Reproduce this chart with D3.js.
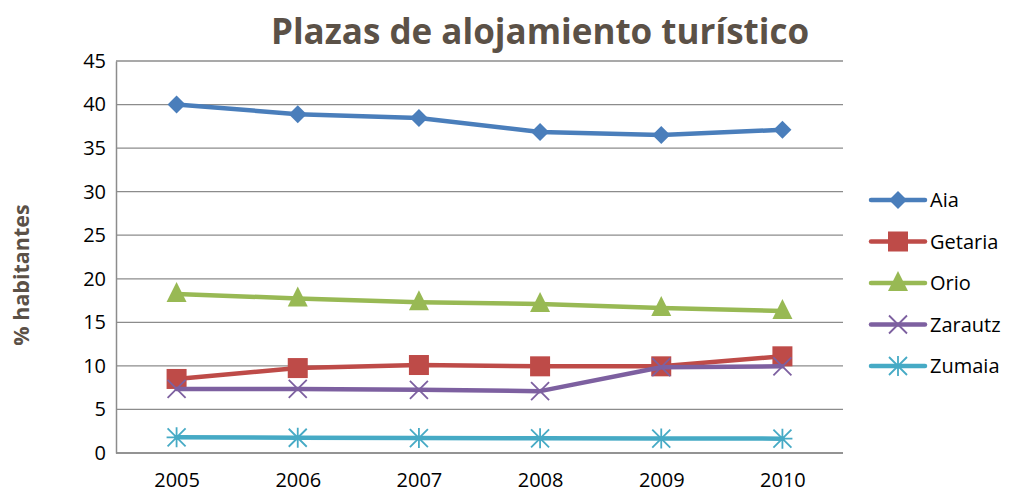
<!DOCTYPE html>
<html>
<head>
<meta charset="utf-8">
<script src="https://cdn.jsdelivr.net/npm/d3@7"></script>
<style>
  body { margin: 0; background: #fff; }
  text { font-family: "Open Sans", "Liberation Sans", sans-serif; }
</style>
</head>
<body>
<div id="canvas"></div>
<script>
"use strict";

/* ===============================
   Data */
let years = ["2005", "2006", "2007", "2008", "2009", "2010"];
let seriesNames = ["Aia", "Getaria", "Orio", "Zarautz", "Zumaia"];
let aia = [40.0, 38.9, 38.45, 36.85, 36.5, 37.1];
let getaria = [8.5, 9.75, 10.1, 9.95, 9.95, 11.1];
let orio = [18.25, 17.75, 17.3, 17.1, 16.65, 16.3];
let zarautz = [7.35, 7.35, 7.25, 7.1, 9.85, 9.95];
let zumaia = [1.8, 1.75, 1.72, 1.68, 1.66, 1.65];
let yTicks = [0, 5, 10, 15, 20, 25, 30, 35, 40, 45];

/* Configuration */
let svgWidth = 1013;
let svgHeight = 495;
let plotLeft = 116;
let plotRight = 843;
let plotTop = 61;
let plotBottom = 453;

let colors = ["#4a7ebb", "#be4b48", "#98b954", "#7d60a0", "#46aac5"];
let markers = ["diamond", "square", "triangle", "x", "star"];
let allValues = [aia, getaria, orio, zarautz, zumaia];

let svg = d3.select("#canvas")
  .append("svg")
  .attr("width", svgWidth)
  .attr("height", svgHeight);

let xScale = d3.scalePoint()
  .domain(years)
  .range([plotLeft, plotRight])
  .padding(0.5);

let yScale = d3.scaleLinear()
  .domain([0, 45])
  .range([plotBottom, plotTop]);

/* Gridlines */
svg.selectAll("line.grid")
  .data(yTicks)
  .join("line")
  .attr("class", "grid")
  .attr("x1", plotLeft)
  .attr("x2", plotRight)
  .attr("y1", function (d) { return yScale(d); })
  .attr("y2", function (d) { return yScale(d); })
  .attr("stroke", "#8c8c8c")
  .attr("stroke-width", 1.3);

/* Y axis */
let yAxis = d3.axisLeft(yScale).tickValues(yTicks).tickSize(0).tickPadding(10);
let yG = svg.append("g")
  .attr("transform", "translate(" + plotLeft + ",0)")
  .call(yAxis);
yG.select(".domain").attr("stroke", "#8c8c8c").attr("stroke-width", 1.5);
yG.selectAll("text")
  .attr("font-size", 20)
  .attr("fill", "#000")
  .style("font-family", "'Open Sans', sans-serif");

/* X axis */
let xAxis = d3.axisBottom(xScale).tickSize(0).tickPadding(20);
let xG = svg.append("g")
  .attr("transform", "translate(0," + plotBottom + ")")
  .call(xAxis);
xG.select(".domain").attr("stroke", "#8c8c8c").attr("stroke-width", 1.5)
  .attr("d", "M" + plotLeft + ",0H" + plotRight);
xG.selectAll("text")
  .attr("font-size", 20)
  .attr("fill", "#000")
  .style("font-family", "'Open Sans', sans-serif");

/* Marker drawing helper */
function drawMarker(g, type, color, x, y) {
  if (type === "diamond") {
    g.append("path")
      .attr("d", "M" + x + "," + (y - 9) + "L" + (x + 9) + "," + y + "L" + x + "," + (y + 9) + "L" + (x - 9) + "," + y + "Z")
      .attr("fill", color);
  } else if (type === "square") {
    g.append("rect")
      .attr("x", x - 10).attr("y", y - 10)
      .attr("width", 20).attr("height", 20)
      .attr("fill", color);
  } else if (type === "triangle") {
    g.append("path")
      .attr("d", "M" + x + "," + (y - 12) + "L" + (x + 10) + "," + (y + 8) + "L" + (x - 10) + "," + (y + 8) + "Z")
      .attr("fill", color);
  } else if (type === "x") {
    g.append("path")
      .attr("d", "M" + (x - 9) + "," + (y - 9) + "L" + (x + 9) + "," + (y + 9) + "M" + (x + 9) + "," + (y - 9) + "L" + (x - 9) + "," + (y + 9))
      .attr("stroke", color).attr("stroke-width", 1.8).attr("fill", "none");
  } else if (type === "star") {
    g.append("path")
      .attr("d", "M" + (x - 9) + "," + (y - 9) + "L" + (x + 9) + "," + (y + 9) + "M" + (x + 9) + "," + (y - 9) + "L" + (x - 9) + "," + (y + 9) + "M" + x + "," + (y - 10) + "L" + x + "," + (y + 10) + "M" + (x - 10) + "," + y + "L" + (x + 10) + "," + y)
      .attr("stroke", color).attr("stroke-width", 1.8).attr("fill", "none");
  }
}

/* Lines and markers */
let line = d3.line()
  .x(function (d, i) { return xScale(years[i]); })
  .y(function (d) { return yScale(d); });

for (let s = 0; s < seriesNames.length; s = s + 1) {
  let g = svg.append("g");
  g.append("path")
    .attr("d", line(allValues[s]))
    .attr("fill", "none")
    .attr("stroke", colors[s])
    .attr("stroke-width", 4.5)
    .attr("stroke-linejoin", "round")
    .attr("stroke-linecap", "round");
  for (let i = 0; i < years.length; i = i + 1) {
    drawMarker(g, markers[s], colors[s], xScale(years[i]), yScale(allValues[s][i]));
  }
}

/* Title */
svg.append("text")
  .attr("x", 540)
  .attr("y", 44)
  .attr("text-anchor", "middle")
  .attr("font-size", 35)
  .attr("font-weight", "bold")
  .attr("fill", "#5b5147")
  .text("Plazas de alojamiento turístico");

/* Y axis title */
svg.append("text")
  .attr("transform", "translate(29,275) rotate(-90)")
  .attr("text-anchor", "middle")
  .attr("font-size", 21.5)
  .attr("font-weight", "bold")
  .attr("fill", "#5b5147")
  .text("% habitantes");

/* Legend */
let legendX = 871;
let legendY0 = 200;
let legendStep = 41.5;
for (let s = 0; s < seriesNames.length; s = s + 1) {
  let g = svg.append("g");
  let cy = legendY0 + s * legendStep;
  g.append("line")
    .attr("x1", legendX).attr("x2", legendX + 54)
    .attr("y1", cy).attr("y2", cy)
    .attr("stroke", colors[s])
    .attr("stroke-width", 4.5)
    .attr("stroke-linecap", "round");
  drawMarker(g, markers[s], colors[s], legendX + 27, cy);
  g.append("text")
    .attr("x", legendX + 59)
    .attr("y", cy + 7)
    .attr("font-size", 20)
    .attr("fill", "#000")
    .text(seriesNames[s]);
}
</script>
</body>
</html>
